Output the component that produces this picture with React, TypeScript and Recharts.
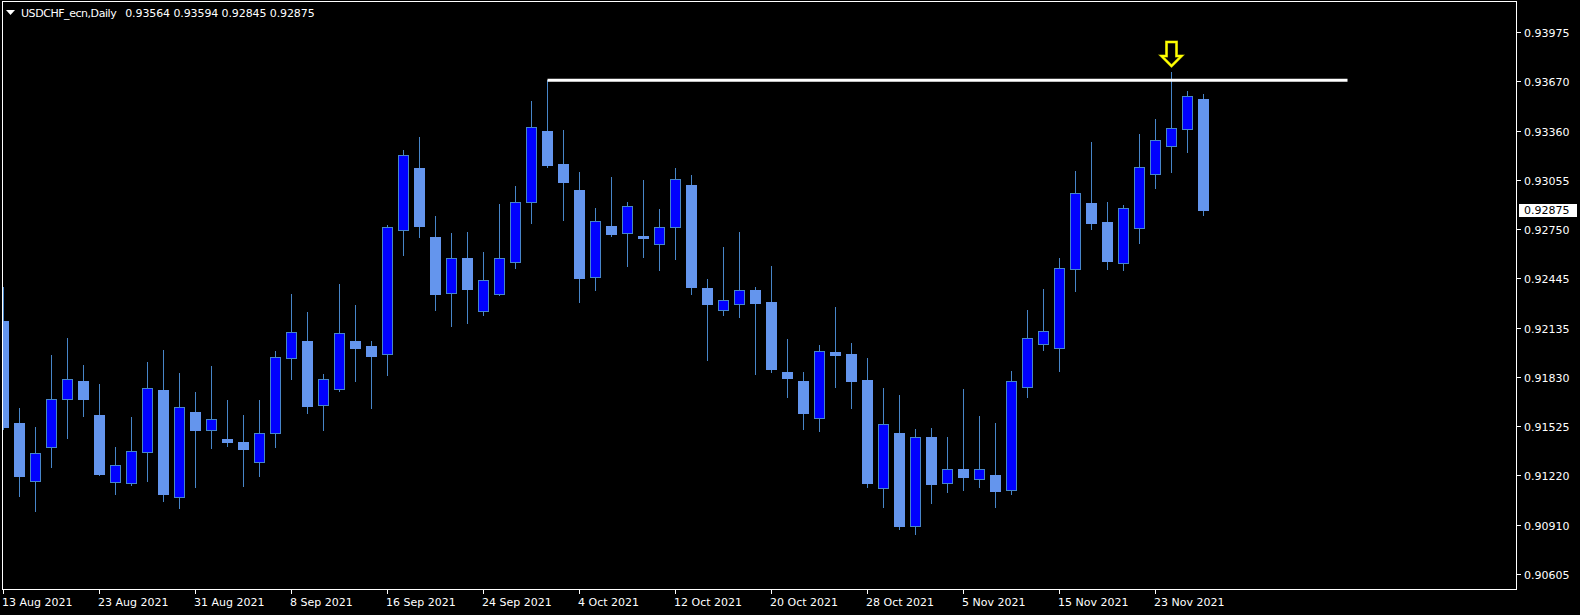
import React from "react";
import {
  ComposedChart,
  Bar,
  XAxis,
  YAxis,
  ReferenceLine,
  ReferenceDot,
  ReferenceArea,
} from "recharts";

const dates = [
  "2021-08-13", "2021-08-16", "2021-08-17", "2021-08-18", "2021-08-19", "2021-08-20",
  "2021-08-23", "2021-08-24", "2021-08-25", "2021-08-26", "2021-08-27", "2021-08-30",
  "2021-08-31", "2021-09-01", "2021-09-02", "2021-09-03", "2021-09-06", "2021-09-07",
  "2021-09-08", "2021-09-09", "2021-09-10", "2021-09-13", "2021-09-14", "2021-09-15",
  "2021-09-16", "2021-09-17", "2021-09-20", "2021-09-21", "2021-09-22", "2021-09-23",
  "2021-09-24", "2021-09-27", "2021-09-28", "2021-09-29", "2021-09-30", "2021-10-01",
  "2021-10-04", "2021-10-05", "2021-10-06", "2021-10-07", "2021-10-08", "2021-10-11",
  "2021-10-12", "2021-10-13", "2021-10-14", "2021-10-15", "2021-10-18", "2021-10-19",
  "2021-10-20", "2021-10-21", "2021-10-22", "2021-10-25", "2021-10-26", "2021-10-27",
  "2021-10-28", "2021-10-29", "2021-11-01", "2021-11-02", "2021-11-03", "2021-11-04",
  "2021-11-05", "2021-11-08", "2021-11-09", "2021-11-10", "2021-11-11", "2021-11-12",
  "2021-11-15", "2021-11-16", "2021-11-17", "2021-11-18", "2021-11-19", "2021-11-22",
  "2021-11-23", "2021-11-24", "2021-11-25", "2021-11-26",
];

const opens = [
  0.92183, 0.91547, 0.91186, 0.91398, 0.91696, 0.9181, 0.91598, 0.9118, 0.91174, 0.9137,
  0.91754, 0.9109, 0.91617, 0.91503, 0.91449, 0.91431, 0.91304, 0.91485, 0.91951, 0.92059,
  0.91659, 0.91758, 0.92059, 0.92028, 0.91976, 0.92751, 0.93133, 0.92706, 0.92355, 0.92573,
  0.92244, 0.92349, 0.92548, 0.92921, 0.93365, 0.9316, 0.92998, 0.92455, 0.92774, 0.92729,
  0.92712, 0.9266, 0.92766, 0.93029, 0.92388, 0.9225, 0.92287, 0.92376, 0.92299, 0.91866,
  0.9181, 0.91578, 0.9199, 0.91978, 0.91816, 0.91143, 0.91487, 0.90906, 0.91462, 0.91174,
  0.91263, 0.91199, 0.91225, 0.9113, 0.91771, 0.92038, 0.92017, 0.92505, 0.92917, 0.92799,
  0.92542, 0.9276, 0.93099, 0.9327, 0.93379, 0.93564,
];

const highs = [
  0.92397, 0.9164, 0.91524, 0.91972, 0.92076, 0.9191, 0.91791, 0.91399, 0.91586, 0.91928,
  0.92003, 0.9186, 0.91742, 0.91903, 0.91692, 0.91598, 0.91692, 0.91997, 0.92351, 0.92239,
  0.91854, 0.92413, 0.92283, 0.92059, 0.92778, 0.93247, 0.93328, 0.92836, 0.92731, 0.92737,
  0.92612, 0.92911, 0.93023, 0.93552, 0.9368, 0.93371, 0.9311, 0.92886, 0.93079, 0.92923,
  0.9306, 0.9288, 0.93135, 0.93091, 0.92444, 0.92643, 0.92737, 0.92397, 0.92525, 0.92071,
  0.91866, 0.92034, 0.9227, 0.92046, 0.91953, 0.91766, 0.91723, 0.91511, 0.91518, 0.91462,
  0.9176, 0.91592, 0.91549, 0.91872, 0.92252, 0.92382, 0.92575, 0.93116, 0.93297, 0.92923,
  0.92905, 0.93346, 0.9344, 0.93732, 0.93614, 0.93594,
];

const lows = [
  0.91511, 0.91097, 0.91003, 0.91277, 0.91457, 0.91594, 0.91227, 0.91109, 0.91163, 0.9119,
  0.91065, 0.91022, 0.91151, 0.91395, 0.91408, 0.91159, 0.91221, 0.91399, 0.91824, 0.91613,
  0.91507, 0.9175, 0.91812, 0.91644, 0.91849, 0.92596, 0.92708, 0.92253, 0.92154, 0.92173,
  0.92222, 0.92345, 0.92515, 0.92795, 0.93143, 0.92813, 0.92303, 0.92378, 0.92714, 0.92527,
  0.92583, 0.92502, 0.92571, 0.92353, 0.91942, 0.92222, 0.9221, 0.91855, 0.91868, 0.91712,
  0.91511, 0.91501, 0.91775, 0.91644, 0.91153, 0.91028, 0.90891, 0.9086, 0.91053, 0.91121,
  0.91134, 0.91153, 0.91028, 0.91107, 0.91712, 0.92005, 0.91874, 0.92372, 0.92757, 0.92509,
  0.92502, 0.9267, 0.93012, 0.93112, 0.93236, 0.92845,
];

const closes = [
  0.91526, 0.91221, 0.9136, 0.91696, 0.91821, 0.917, 0.91233, 0.91286, 0.91373, 0.91765,
  0.91109, 0.91646, 0.91507, 0.91572, 0.91431, 0.91389, 0.91485, 0.91957, 0.92113, 0.91656,
  0.91821, 0.92107, 0.92017, 0.91967, 0.92766, 0.93214, 0.92776, 0.92353, 0.92573, 0.92384,
  0.92436, 0.92573, 0.92921, 0.93388, 0.93155, 0.9305, 0.92452, 0.92803, 0.92726, 0.92897,
  0.92701, 0.92766, 0.93065, 0.92397, 0.92291, 0.92312, 0.92374, 0.92297, 0.91886, 0.9183,
  0.91613, 0.91995, 0.91974, 0.91812, 0.91177, 0.91541, 0.9091, 0.9146, 0.91171, 0.91261,
  0.91215, 0.91261, 0.91128, 0.91808, 0.92076, 0.92119, 0.92511, 0.92977, 0.92795, 0.92558,
  0.92884, 0.93139, 0.93307, 0.93382, 0.93581, 0.92875,
];

const dateTicks = [0, 6, 12, 18, 24, 30, 36, 42, 48, 54, 60, 66, 72];
const dateTickLabels = [
  "13 Aug 2021", "23 Aug 2021", "31 Aug 2021", "8 Sep 2021", "16 Sep 2021", "24 Sep 2021",
  "4 Oct 2021", "12 Oct 2021", "20 Oct 2021", "28 Oct 2021", "5 Nov 2021", "15 Nov 2021",
  "23 Nov 2021",
];
const priceTicks = [
  0.93975, 0.9367, 0.9336, 0.93055, 0.9275, 0.92445, 0.92135, 0.9183, 0.91525, 0.9122,
  0.9091, 0.90605,
];

const symbolTitle = "USDCHF_ecn,Daily";
const lastPrice = 0.92875;
const resistance = { from: 34, to: 84, price: 0.9368 };
const signalBar = 73;

const X_DOMAIN: [number, number] = [-0.03125, 94.59375];
const Y_DOMAIN: [number, number] = [0.9051, 0.94167];

const FONT = "DejaVu Sans";
const WICK = "#4785c8";
const UP_FILL = "#0000ff";
const DOWN_FILL = "#6495ed";

const rows = dates.map((d, i) => ({
  i,
  date: d,
  open: opens[i],
  high: highs[i],
  low: lows[i],
  close: closes[i],
  range: [lows[i], highs[i]],
}));

function Candle(props: any) {
  const { x, y, width, height, payload } = props;
  if (!payload || !Number.isFinite(y)) return null;
  const { open, close, high, low } = payload;
  const cx = Math.round(x + width / 2 - 0.5) + 0.5;
  const toY = (p: number) => y + ((high - p) / (high - low)) * height;
  const yHi = Math.round(toY(high));
  const yLo = Math.round(toY(low));
  const yTop = Math.round(toY(Math.max(open, close)));
  const yBot = Math.round(toY(Math.min(open, close)));
  const up = close > open;
  return (
    <g>
      <line x1={cx} x2={cx} y1={yHi} y2={yLo + 1} stroke={WICK} strokeWidth={1} />
      {up ? (
        <rect
          x={cx - 5}
          y={yTop + 0.5}
          width={10}
          height={Math.max(yBot - yTop, 1)}
          fill={UP_FILL}
          stroke={WICK}
          strokeWidth={1}
        />
      ) : (
        <rect
          x={cx - 5.5}
          y={yTop}
          width={11}
          height={Math.max(yBot - yTop + 1, 2)}
          fill={DOWN_FILL}
        />
      )}
    </g>
  );
}

function PriceTick(props: any) {
  const { x, y, payload } = props;
  const yy = Math.round(y - 0.5) + 0.5;
  return (
    <g>
      <line x1={x - 7} x2={x - 3} y1={yy} y2={yy} stroke="#fff" />
      <text x={x} y={y + 4} fill="#fff" fontSize={11} fontFamily={FONT}>
        {Number(payload.value).toFixed(5)}
      </text>
    </g>
  );
}

function DateTick(props: any) {
  const { x, y, payload } = props;
  const xx = Math.round(x - 0.5) + 0.5;
  const label = dateTickLabels[dateTicks.indexOf(payload.value)] ?? "";
  return (
    <g>
      <line x1={xx} x2={xx} y1={y - 4} y2={y} stroke="#fff" />
      <text x={x - 1.5} y={y + 12} fill="#fff" fontSize={11} fontFamily={FONT}>
        {label}
      </text>
    </g>
  );
}

function PriceBox(props: any) {
  const { cx, cy } = props;
  return (
    <g>
      <rect x={cx + 2} y={Math.round(cy) - 6} width={58} height={13} fill="#fff" />
      <text x={cx + 7} y={cy + 4} fill="#000" fontSize={11} fontFamily={FONT}>
        {lastPrice.toFixed(5)}
      </text>
    </g>
  );
}

function DownArrow(props: any) {
  const { cx, cy } = props;
  const c = Math.round(cx - 0.5) + 0.5;
  const t = Math.round(cy) - 6;
  const pts = [
    [c - 5, t - 24],
    [c + 5, t - 24],
    [c + 5, t - 10],
    [c + 10, t - 10],
    [c, t],
    [c - 10, t - 10],
    [c - 5, t - 10],
  ]
    .map((p) => p.join(","))
    .join(" ");
  return (
    <g>
      <polygon points={pts} fill="none" stroke="#8a8a00" strokeWidth={3} strokeLinejoin="miter" />
      <polygon points={pts} fill="none" stroke="#ffff00" strokeWidth={2} strokeLinejoin="miter" />
    </g>
  );
}

function Frame(props: any) {
  const { x, y, width, height } = props;
  return (
    <rect x={x - 0.5} y={y - 0.5} width={width} height={height} fill="none" stroke="#fff" strokeWidth={1} />
  );
}

export default function App() {
  const bar = rows[rows.length - 1];
  return (
    <div style={{ position: "absolute", left: 0, top: 0, width: 1580, height: 615, background: "#000" }}>
      <ComposedChart
        width={1580}
        height={615}
        data={rows}
        margin={{ top: 2, right: 0, bottom: 0, left: 3 }}
      >
        <XAxis
          dataKey="i"
          type="number"
          domain={X_DOMAIN}
          allowDataOverflow
          ticks={dateTicks}
          interval={0}
          height={25}
          axisLine={false}
          tickLine={false}
          tickSize={4}
          tickMargin={0}
          tick={<DateTick />}
        />
        <YAxis
          orientation="right"
          type="number"
          domain={Y_DOMAIN}
          allowDataOverflow
          ticks={priceTicks}
          interval={0}
          width={63}
          axisLine={false}
          tickLine={false}
          tickSize={4}
          tickMargin={3}
          tick={<PriceTick />}
        />
        <Bar dataKey="range" barSize={10} shape={<Candle />} isAnimationActive={false} />
        <ReferenceLine
          segment={[
            { x: resistance.from, y: resistance.price },
            { x: resistance.to, y: resistance.price },
          ]}
          stroke="#fff"
          strokeWidth={3}
        />
        <ReferenceDot x={signalBar} y={highs[signalBar]} r={0} shape={<DownArrow />} />
        <ReferenceArea
          x1={X_DOMAIN[0]}
          x2={X_DOMAIN[1]}
          y1={Y_DOMAIN[0]}
          y2={Y_DOMAIN[1]}
          shape={<Frame />}
        />
        <ReferenceDot x={X_DOMAIN[1]} y={lastPrice} r={0} shape={<PriceBox />} />
      </ComposedChart>
      <svg
        width={420}
        height={24}
        style={{ position: "absolute", left: 0, top: 0, pointerEvents: "none" }}
      >
        <polygon points="6,10 15,10 10.5,15" fill="#fff" />
        <text x={21} y={17} fill="#fff" fontSize={11} fontFamily={FONT}>
          <tspan letterSpacing={-0.45}>{symbolTitle}</tspan>
          <tspan dx={9} letterSpacing={-0.1}>
            {[bar.open, bar.high, bar.low, bar.close].map((v) => v.toFixed(5)).join(" ")}
          </tspan>
        </text>
      </svg>
    </div>
  );
}
